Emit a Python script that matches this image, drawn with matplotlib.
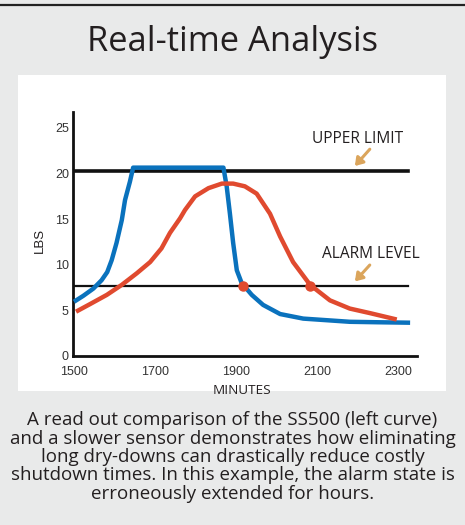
import matplotlib.pyplot as plt
from matplotlib.patches import Rectangle

# data
blue_x = [1500, 1523, 1548, 1568, 1582, 1593, 1605, 1618, 1626, 1638, 1646, 1869, 1877, 1885,
          1893, 1902, 1914, 1939, 1967, 2009, 2066, 2132, 2181, 2250, 2330]
blue_y = [5.95, 6.6, 7.4, 8.3, 9.2, 10.5, 12.4, 14.9, 17.1, 19.1, 20.65, 20.65, 18.6, 15.6,
          12.4, 9.4, 8.0, 6.7, 5.6, 4.6, 4.1, 3.9, 3.75, 3.7, 3.65]
red_x = [1505, 1540, 1581, 1618, 1655, 1688, 1716, 1737, 1762, 1774, 1799, 1832, 1865, 1893,
         1922, 1951, 1984, 2009, 2041, 2083, 2132, 2181, 2231, 2297]
red_y = [4.86, 5.7, 6.7, 7.8, 9.07, 10.3, 11.8, 13.5, 15.1, 16.0, 17.5, 18.4, 18.9, 18.9,
         18.6, 17.8, 15.6, 13.1, 10.3, 7.8, 6.1, 5.2, 4.7, 4.0]
upper_limit = 20.3
alarm_level = 7.7
alarm_x = [1918, 2083]
xticks = [1500, 1700, 1900, 2100, 2300]
yticks = [0, 5, 10, 15, 20, 25]
caption = ("A read out comparison of the SS500 (left curve)\n"
           "and a slower sensor demonstrates how eliminating\n"
           "long dry-downs can drastically reduce costly\n"
           "shutdown times. In this example, the alarm state is\n"
           "erroneously extended for hours.")

bg = '#e9eaea'
blue = '#0a72bd'
red = '#e04a2f'
tan = '#dba55c'
txt = '#231f20'

fig = plt.figure(figsize=(4.65, 5.25), dpi=100)
fig.patch.set_facecolor(bg)
fig.add_artist(plt.Line2D([0, 1], [1 - 5 / 525, 1 - 5 / 525], color='#222222', lw=1.6,
                          transform=fig.transFigure))
fig.add_artist(Rectangle((18 / 465, 1 - 391 / 525), 428 / 465, 316 / 525,
                         transform=fig.transFigure, facecolor='white', edgecolor='none',
                         zorder=-10))

fig.text(0.5, 1 - 42 / 525, 'Real-time Analysis', ha='center', va='center',
         fontsize=24.8, color=txt, family='Open Sans')

ax = fig.add_axes([73 / 465, 1 - 356 / 525, 344 / 465, 244 / 525])
ax.set_facecolor('white')
ax.set_xlim(1497.5, 2347)
ax.set_ylim(0, 26.75)

ax.plot(blue_x, blue_y, color=blue, lw=3.2, solid_capstyle='butt', solid_joinstyle='round', zorder=3)
ax.plot(red_x, red_y, color=red, lw=3.2, solid_capstyle='butt', solid_joinstyle='round', zorder=3)
ax.plot(alarm_x, [alarm_level] * 2, 'o', color=red, ms=6.5, zorder=4)

ax.plot([1497.5, 2325], [upper_limit] * 2, color='#111111', lw=2.6, zorder=2)
ax.plot([1497.5, 2325], [alarm_level] * 2, color='#111111', lw=1.6, zorder=2)

ax.annotate('', xy=(2189, 20.6), xytext=(2235, 22.9),
            arrowprops=dict(arrowstyle='-|>,head_width=0.3,head_length=0.45', color=tan, lw=2.2))
ax.annotate('', xy=(2189, 7.95), xytext=(2235, 10.2),
            arrowprops=dict(arrowstyle='-|>,head_width=0.3,head_length=0.45', color=tan, lw=2.2))
ax.text(2199, 23.8, 'UPPER LIMIT', ha='center', va='center', fontsize=11.2, color=txt, family='Open Sans')
ax.text(2233, 11.2, 'ALARM LEVEL', ha='center', va='center', fontsize=11.2, color=txt, family='Open Sans')

for s in ['top', 'right']:
    ax.spines[s].set_visible(False)
for s in ['left', 'bottom']:
    ax.spines[s].set_linewidth(2)
    ax.spines[s].set_color('#111111')
ax.set_xticks(xticks)
ax.set_yticks(yticks)
ax.tick_params(length=0, labelsize=9, colors='#333333')
ax.tick_params(axis='x', pad=7)
ax.tick_params(axis='y', pad=3)
for lab in ax.get_xticklabels() + ax.get_yticklabels():
    lab.set_family('Liberation Sans')

fig.text(242 / 465, 1 - 391 / 525, 'MINUTES', ha='center', va='center', fontsize=9.7,
         color=txt, family='Open Sans')
fig.text(40 / 465, 1 - 240 / 525, 'LBS', ha='center', va='center', fontsize=9.5,
         color=txt, family='Liberation Sans', rotation=90)

fig.text(0.5, 1 - 457 / 525, caption, ha='center', va='center', fontsize=13.5,
         color=txt, family='Open Sans', linespacing=1.03)

fig.savefig('out.png', dpi=100, facecolor=bg)
